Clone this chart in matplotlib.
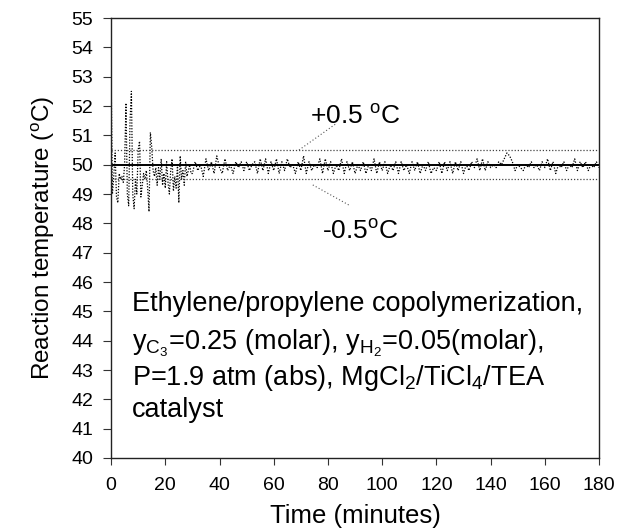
import numpy as np
import matplotlib
matplotlib.use("Agg")
import matplotlib.pyplot as plt

plt.rcParams['font.family'] = ['Liberation Sans', 'DejaVu Sans']
plt.rcParams['mathtext.fontset'] = 'custom'
plt.rcParams['mathtext.rm'] = 'Liberation Sans'
plt.rcParams['mathtext.it'] = 'Liberation Sans'
plt.rcParams['mathtext.default'] = 'regular'

# Start-up transient sampled every 0.5 min, then steady operation every 1 min
time_startup = np.arange(0, 30, 0.5)
temp_startup = [
    53.3, 49.0, 49.6, 50.4, 48.9, 48.7, 49.7, 49.5, 49.6, 49.4,
    50.0, 52.1, 49.0, 48.6, 51.5, 52.5, 49.0, 48.5, 49.5, 49.0,
    50.5, 50.8, 48.9, 49.3, 49.7, 49.5, 49.8, 49.2, 48.4, 51.1,
    50.6, 49.8, 49.6, 49.9, 49.3, 49.9, 49.5, 50.2, 49.3, 49.7,
    49.2, 50.1, 49.4, 49.0, 49.8, 50.2, 49.1, 49.6, 49.2, 50.0,
    48.7, 50.3, 49.5, 49.8, 49.3, 50.1, 49.6, 49.8, 50.0, 49.7,
]
time_steady = np.arange(30, 181, 1)
temp_steady = [
    49.7, 50.1, 49.8, 50.0, 49.6, 50.2, 49.8, 50.1, 49.7, 50.3,
    49.9, 49.7, 50.2, 49.8, 50.0, 49.7, 50.1, 49.9, 50.1, 49.8,
    50.1, 49.8, 50.0, 50.1, 49.7, 50.2, 49.8, 50.2, 49.7, 50.1,
    49.8, 50.2, 49.7, 50.1, 49.8, 50.2, 49.9, 50.0, 49.7, 50.1,
    49.8, 50.3, 49.7, 50.1, 49.8, 50.0, 49.9, 50.2, 49.7, 50.2,
    49.8, 50.1, 49.7, 50.0, 49.8, 50.2, 49.7, 50.1, 49.8, 50.1,
    49.7, 50.0, 49.8, 50.1, 49.7, 50.0, 49.8, 50.2, 49.7, 50.1,
    49.8, 50.1, 49.7, 50.0, 49.8, 50.1, 49.7, 50.1, 49.8, 50.0,
    49.7, 50.1, 49.8, 50.1, 49.7, 50.0, 49.8, 50.1, 49.7, 49.9,
    49.8, 50.1, 49.7, 50.1, 49.8, 50.1, 49.7, 50.1, 49.8, 50.1,
    49.7, 50.0, 49.8, 50.1, 49.9, 50.2, 49.8, 50.2, 49.8, 50.1,
    49.9, 50.0, 49.9, 50.1, 50.0, 50.2, 50.4, 50.3, 50.1, 49.8,
    50.0, 49.9, 49.8, 50.0, 49.9, 50.1, 49.9, 50.0, 49.8, 50.1,
    49.9, 50.2, 49.8, 50.1, 49.7, 50.0, 49.9, 50.1, 49.8, 50.0,
    49.9, 50.2, 49.8, 50.1, 49.9, 50.1, 49.8, 50.0, 49.9, 50.1,
    49.9,
]
time_min = np.concatenate([time_startup, time_steady])
temperature = np.concatenate([temp_startup, temp_steady])

setpoint = 50.0
tolerance = 0.5

x_ticks = list(range(0, 181, 20))
y_ticks = list(range(40, 56, 1))

fig = plt.figure(figsize=(6.17, 5.31), dpi=100)
ax = fig.add_axes([0.180, 0.1375, 0.791, 0.8285])

ax.plot(time_min, temperature, color='black', lw=0.9,
        linestyle=(0, (1, 1.3)))
ax.axhline(setpoint, color='black', lw=1.4)
ax.axhline(setpoint + tolerance, color='#444444', lw=0.9, linestyle=(0, (1, 1.5)))
ax.axhline(setpoint - tolerance, color='#444444', lw=0.9, linestyle=(0, (1, 1.5)))

ax.set_xlim(0, 180)
ax.set_ylim(40, 55)
ax.set_xticks(x_ticks)
ax.set_yticks(y_ticks)
ax.tick_params(axis='both', direction='out', labelsize=14, width=0.8, color='#333333')
ax.tick_params(axis='y', length=6, pad=7)
ax.tick_params(axis='x', length=5, pad=9)
for s in ax.spines.values():
    s.set_linewidth(1.0)
    s.set_color('#222222')

ax.set_xlabel('Time (minutes)', fontsize=18.5, labelpad=7)
ax.set_ylabel('Reaction temperature ($^{o}$C)', fontsize=17.5, labelpad=10)

# Tolerance band labels with dotted leaders
ax.text(73.4, 51.39, '+0.5 $^{o}$C', fontsize=19, va='baseline', ha='left')
ax.plot([69.3, 83.3], [50.5, 51.42], color='#555555', lw=0.8, linestyle=(0, (1, 2)))
ax.text(77.8, 47.47, '-0.5$^{o}$C', fontsize=19, va='baseline', ha='left')
ax.plot([74.4, 87.8], [49.31, 48.62], color='#555555', lw=0.8, linestyle=(0, (1, 2)))

# Experimental conditions
cond_x = 7.6
ax.text(cond_x, 45.02, 'Ethylene/propylene copolymerization,', fontsize=19.5, va='baseline')
ax.text(cond_x, 43.7, 'y$_{C_3}$=0.25 (molar), y$_{H_2}$=0.05(molar),', fontsize=19.5, va='baseline')
ax.text(cond_x, 42.49, 'P=1.9 atm (abs), MgCl$_2$/TiCl$_4$/TEA', fontsize=19.5, va='baseline')
ax.text(cond_x, 41.41, 'catalyst', fontsize=19.5, va='baseline')

fig.savefig('out.png', dpi=100)
